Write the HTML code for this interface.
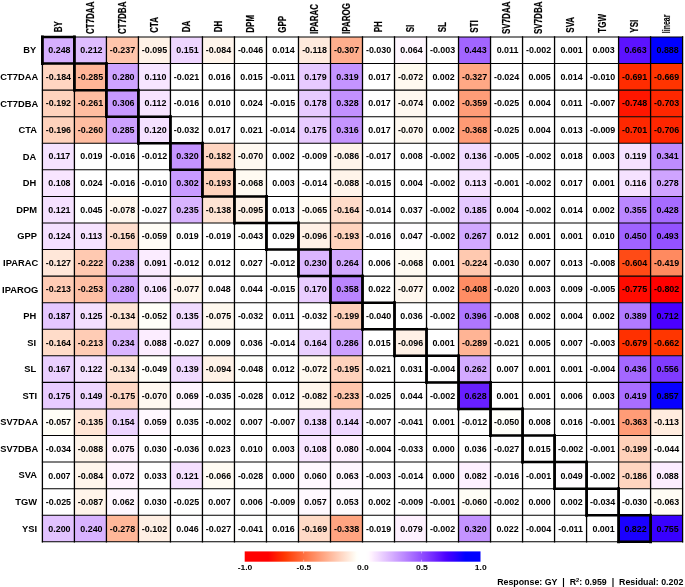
<!DOCTYPE html><html><head><meta charset="utf-8"><title>Path coefficients</title>
<style>html,body{margin:0;padding:0;background:#fff}svg{display:block}text{font-family:"Liberation Sans",Arial,Helvetica,sans-serif;font-weight:bold;fill:#000}</style></head><body>
<svg width="685" height="587" viewBox="0 0 685 587">
<rect x="0" y="0" width="685" height="587" fill="#fff"/>
<rect x="42.40" y="37.00" width="32.01" height="26.57" fill="#d6afff"/>
<rect x="74.41" y="37.00" width="32.01" height="26.57" fill="#dfbdff"/>
<rect x="106.42" y="37.00" width="32.01" height="26.57" fill="#ffc5ab"/>
<rect x="138.43" y="37.00" width="32.01" height="26.57" fill="#fff2e7"/>
<rect x="170.44" y="37.00" width="32.01" height="26.57" fill="#eed5ff"/>
<rect x="202.45" y="37.00" width="32.01" height="26.57" fill="#fff5eb"/>
<rect x="234.46" y="37.00" width="32.01" height="26.57" fill="#fffffc"/>
<rect x="298.48" y="37.00" width="32.01" height="26.57" fill="#ffeadd"/>
<rect x="330.49" y="37.00" width="32.01" height="26.57" fill="#ffae8d"/>
<rect x="394.51" y="37.00" width="32.01" height="26.57" fill="#fff7ff"/>
<rect x="458.53" y="37.00" width="32.01" height="26.57" fill="#a265ff"/>
<rect x="618.58" y="37.00" width="32.01" height="26.57" fill="#5c12ff"/>
<rect x="650.59" y="37.00" width="32.01" height="26.57" fill="#0000ff"/>
<rect x="42.40" y="63.57" width="32.01" height="26.57" fill="#ffd5c1"/>
<rect x="74.41" y="63.57" width="32.01" height="26.57" fill="#ffb597"/>
<rect x="106.42" y="63.57" width="32.01" height="26.57" fill="#cea3ff"/>
<rect x="138.43" y="63.57" width="32.01" height="26.57" fill="#f7e5ff"/>
<rect x="298.48" y="63.57" width="32.01" height="26.57" fill="#e7caff"/>
<rect x="330.49" y="63.57" width="32.01" height="26.57" fill="#c494ff"/>
<rect x="394.51" y="63.57" width="32.01" height="26.57" fill="#fff9f0"/>
<rect x="458.53" y="63.57" width="32.01" height="26.57" fill="#ffa885"/>
<rect x="618.58" y="63.57" width="32.01" height="26.57" fill="#ff2c00"/>
<rect x="650.59" y="63.57" width="32.01" height="26.57" fill="#ff3400"/>
<rect x="42.40" y="90.14" width="32.01" height="26.57" fill="#ffd3bd"/>
<rect x="74.41" y="90.14" width="32.01" height="26.57" fill="#ffbda1"/>
<rect x="106.42" y="90.14" width="32.01" height="26.57" fill="#c799ff"/>
<rect x="138.43" y="90.14" width="32.01" height="26.57" fill="#f7e4ff"/>
<rect x="298.48" y="90.14" width="32.01" height="26.57" fill="#e7caff"/>
<rect x="330.49" y="90.14" width="32.01" height="26.57" fill="#c291ff"/>
<rect x="394.51" y="90.14" width="32.01" height="26.57" fill="#fff8f0"/>
<rect x="458.53" y="90.14" width="32.01" height="26.57" fill="#ff9d78"/>
<rect x="618.58" y="90.14" width="32.01" height="26.57" fill="#ff1600"/>
<rect x="650.59" y="90.14" width="32.01" height="26.57" fill="#ff2700"/>
<rect x="42.40" y="116.71" width="32.01" height="26.57" fill="#ffd2bc"/>
<rect x="74.41" y="116.71" width="32.01" height="26.57" fill="#ffbda1"/>
<rect x="106.42" y="116.71" width="32.01" height="26.57" fill="#cda1ff"/>
<rect x="138.43" y="116.71" width="32.01" height="26.57" fill="#f5e1ff"/>
<rect x="298.48" y="116.71" width="32.01" height="26.57" fill="#e8cbff"/>
<rect x="330.49" y="116.71" width="32.01" height="26.57" fill="#c595ff"/>
<rect x="394.51" y="116.71" width="32.01" height="26.57" fill="#fff9f1"/>
<rect x="458.53" y="116.71" width="32.01" height="26.57" fill="#ff9a74"/>
<rect x="618.58" y="116.71" width="32.01" height="26.57" fill="#ff2800"/>
<rect x="650.59" y="116.71" width="32.01" height="26.57" fill="#ff2600"/>
<rect x="42.40" y="143.27" width="32.01" height="26.57" fill="#f5e2ff"/>
<rect x="170.44" y="143.27" width="32.01" height="26.57" fill="#c494ff"/>
<rect x="202.45" y="143.27" width="32.01" height="26.57" fill="#ffd6c2"/>
<rect x="234.46" y="143.27" width="32.01" height="26.57" fill="#fff9f1"/>
<rect x="330.49" y="143.27" width="32.01" height="26.57" fill="#fff4ea"/>
<rect x="458.53" y="143.27" width="32.01" height="26.57" fill="#f1dbff"/>
<rect x="618.58" y="143.27" width="32.01" height="26.57" fill="#f5e1ff"/>
<rect x="650.59" y="143.27" width="32.01" height="26.57" fill="#be8cff"/>
<rect x="42.40" y="169.84" width="32.01" height="26.57" fill="#f8e5ff"/>
<rect x="170.44" y="169.84" width="32.01" height="26.57" fill="#c89bff"/>
<rect x="202.45" y="169.84" width="32.01" height="26.57" fill="#ffd3bd"/>
<rect x="234.46" y="169.84" width="32.01" height="26.57" fill="#fffaf2"/>
<rect x="330.49" y="169.84" width="32.01" height="26.57" fill="#fff4ea"/>
<rect x="458.53" y="169.84" width="32.01" height="26.57" fill="#f6e3ff"/>
<rect x="618.58" y="169.84" width="32.01" height="26.57" fill="#f6e2ff"/>
<rect x="650.59" y="169.84" width="32.01" height="26.57" fill="#cfa4ff"/>
<rect x="42.40" y="196.41" width="32.01" height="26.57" fill="#f5e0ff"/>
<rect x="74.41" y="196.41" width="32.01" height="26.57" fill="#fffeff"/>
<rect x="106.42" y="196.41" width="32.01" height="26.57" fill="#fff7ee"/>
<rect x="170.44" y="196.41" width="32.01" height="26.57" fill="#d9b4ff"/>
<rect x="202.45" y="196.41" width="32.01" height="26.57" fill="#ffe4d4"/>
<rect x="234.46" y="196.41" width="32.01" height="26.57" fill="#fff2e7"/>
<rect x="298.48" y="196.41" width="32.01" height="26.57" fill="#fffbf3"/>
<rect x="330.49" y="196.41" width="32.01" height="26.57" fill="#ffdcc9"/>
<rect x="458.53" y="196.41" width="32.01" height="26.57" fill="#e5c8ff"/>
<rect x="618.58" y="196.41" width="32.01" height="26.57" fill="#bb87ff"/>
<rect x="650.59" y="196.41" width="32.01" height="26.57" fill="#a66bff"/>
<rect x="42.40" y="222.98" width="32.01" height="26.57" fill="#f4dfff"/>
<rect x="74.41" y="222.98" width="32.01" height="26.57" fill="#f6e3ff"/>
<rect x="106.42" y="222.98" width="32.01" height="26.57" fill="#ffdecd"/>
<rect x="138.43" y="222.98" width="32.01" height="26.57" fill="#fffdf6"/>
<rect x="234.46" y="222.98" width="32.01" height="26.57" fill="#fffffd"/>
<rect x="298.48" y="222.98" width="32.01" height="26.57" fill="#fff1e6"/>
<rect x="330.49" y="222.98" width="32.01" height="26.57" fill="#ffd3bd"/>
<rect x="394.51" y="222.98" width="32.01" height="26.57" fill="#fffdff"/>
<rect x="458.53" y="222.98" width="32.01" height="26.57" fill="#d1a8ff"/>
<rect x="618.58" y="222.98" width="32.01" height="26.57" fill="#a063ff"/>
<rect x="650.59" y="222.98" width="32.01" height="26.57" fill="#9452ff"/>
<rect x="42.40" y="249.55" width="32.01" height="26.57" fill="#ffe7d9"/>
<rect x="74.41" y="249.55" width="32.01" height="26.57" fill="#ffc9b1"/>
<rect x="106.42" y="249.55" width="32.01" height="26.57" fill="#d9b3ff"/>
<rect x="138.43" y="249.55" width="32.01" height="26.57" fill="#fbecff"/>
<rect x="298.48" y="249.55" width="32.01" height="26.57" fill="#dbb6ff"/>
<rect x="330.49" y="249.55" width="32.01" height="26.57" fill="#d2a9ff"/>
<rect x="394.51" y="249.55" width="32.01" height="26.57" fill="#fffaf2"/>
<rect x="458.53" y="249.55" width="32.01" height="26.57" fill="#ffc9b0"/>
<rect x="618.58" y="249.55" width="32.01" height="26.57" fill="#ff4b16"/>
<rect x="650.59" y="249.55" width="32.01" height="26.57" fill="#ff8a60"/>
<rect x="42.40" y="276.12" width="32.01" height="26.57" fill="#ffccb5"/>
<rect x="74.41" y="276.12" width="32.01" height="26.57" fill="#ffbfa4"/>
<rect x="106.42" y="276.12" width="32.01" height="26.57" fill="#cea3ff"/>
<rect x="138.43" y="276.12" width="32.01" height="26.57" fill="#f8e6ff"/>
<rect x="170.44" y="276.12" width="32.01" height="26.57" fill="#fff7ee"/>
<rect x="202.45" y="276.12" width="32.01" height="26.57" fill="#fffdff"/>
<rect x="234.46" y="276.12" width="32.01" height="26.57" fill="#fffeff"/>
<rect x="298.48" y="276.12" width="32.01" height="26.57" fill="#e9cdff"/>
<rect x="330.49" y="276.12" width="32.01" height="26.57" fill="#ba85ff"/>
<rect x="394.51" y="276.12" width="32.01" height="26.57" fill="#fff7ee"/>
<rect x="458.53" y="276.12" width="32.01" height="26.57" fill="#ff8d64"/>
<rect x="618.58" y="276.12" width="32.01" height="26.57" fill="#ff0b00"/>
<rect x="650.59" y="276.12" width="32.01" height="26.57" fill="#ff0000"/>
<rect x="42.40" y="302.68" width="32.01" height="26.57" fill="#e5c7ff"/>
<rect x="74.41" y="302.68" width="32.01" height="26.57" fill="#f4dfff"/>
<rect x="106.42" y="302.68" width="32.01" height="26.57" fill="#ffe5d6"/>
<rect x="138.43" y="302.68" width="32.01" height="26.57" fill="#fffff9"/>
<rect x="170.44" y="302.68" width="32.01" height="26.57" fill="#f1dbff"/>
<rect x="202.45" y="302.68" width="32.01" height="26.57" fill="#fff8ef"/>
<rect x="330.49" y="302.68" width="32.01" height="26.57" fill="#ffd1ba"/>
<rect x="362.50" y="302.68" width="32.01" height="26.57" fill="#fffffe"/>
<rect x="458.53" y="302.68" width="32.01" height="26.57" fill="#af77ff"/>
<rect x="618.58" y="302.68" width="32.01" height="26.57" fill="#b17aff"/>
<rect x="650.59" y="302.68" width="32.01" height="26.57" fill="#4a00ff"/>
<rect x="42.40" y="329.25" width="32.01" height="26.57" fill="#ffdcc9"/>
<rect x="74.41" y="329.25" width="32.01" height="26.57" fill="#ffccb5"/>
<rect x="106.42" y="329.25" width="32.01" height="26.57" fill="#dab5ff"/>
<rect x="138.43" y="329.25" width="32.01" height="26.57" fill="#fcedff"/>
<rect x="298.48" y="329.25" width="32.01" height="26.57" fill="#ead0ff"/>
<rect x="330.49" y="329.25" width="32.01" height="26.57" fill="#cda1ff"/>
<rect x="394.51" y="329.25" width="32.01" height="26.57" fill="#fff1e6"/>
<rect x="458.53" y="329.25" width="32.01" height="26.57" fill="#ffb495"/>
<rect x="618.58" y="329.25" width="32.01" height="26.57" fill="#ff3000"/>
<rect x="650.59" y="329.25" width="32.01" height="26.57" fill="#ff3600"/>
<rect x="42.40" y="355.82" width="32.01" height="26.57" fill="#eacfff"/>
<rect x="74.41" y="355.82" width="32.01" height="26.57" fill="#f4e0ff"/>
<rect x="106.42" y="355.82" width="32.01" height="26.57" fill="#ffe5d6"/>
<rect x="138.43" y="355.82" width="32.01" height="26.57" fill="#fffffa"/>
<rect x="170.44" y="355.82" width="32.01" height="26.57" fill="#f0d9ff"/>
<rect x="202.45" y="355.82" width="32.01" height="26.57" fill="#fff2e7"/>
<rect x="234.46" y="355.82" width="32.01" height="26.57" fill="#fffffb"/>
<rect x="298.48" y="355.82" width="32.01" height="26.57" fill="#fff9f0"/>
<rect x="330.49" y="355.82" width="32.01" height="26.57" fill="#ffd2bc"/>
<rect x="458.53" y="355.82" width="32.01" height="26.57" fill="#d3aaff"/>
<rect x="618.58" y="355.82" width="32.01" height="26.57" fill="#a468ff"/>
<rect x="650.59" y="355.82" width="32.01" height="26.57" fill="#803bff"/>
<rect x="42.40" y="382.39" width="32.01" height="26.57" fill="#e8cbff"/>
<rect x="74.41" y="382.39" width="32.01" height="26.57" fill="#eed6ff"/>
<rect x="106.42" y="382.39" width="32.01" height="26.57" fill="#ffd8c5"/>
<rect x="138.43" y="382.39" width="32.01" height="26.57" fill="#fff9f1"/>
<rect x="170.44" y="382.39" width="32.01" height="26.57" fill="#fff5ff"/>
<rect x="298.48" y="382.39" width="32.01" height="26.57" fill="#fff6ec"/>
<rect x="330.49" y="382.39" width="32.01" height="26.57" fill="#ffc6ac"/>
<rect x="394.51" y="382.39" width="32.01" height="26.57" fill="#fffeff"/>
<rect x="458.53" y="382.39" width="32.01" height="26.57" fill="#681fff"/>
<rect x="618.58" y="382.39" width="32.01" height="26.57" fill="#a96eff"/>
<rect x="650.59" y="382.39" width="32.01" height="26.57" fill="#0700ff"/>
<rect x="42.40" y="408.96" width="32.01" height="26.57" fill="#fffef7"/>
<rect x="74.41" y="408.96" width="32.01" height="26.57" fill="#ffe5d5"/>
<rect x="106.42" y="408.96" width="32.01" height="26.57" fill="#edd4ff"/>
<rect x="138.43" y="408.96" width="32.01" height="26.57" fill="#fff8ff"/>
<rect x="298.48" y="408.96" width="32.01" height="26.57" fill="#f1daff"/>
<rect x="330.49" y="408.96" width="32.01" height="26.57" fill="#efd7ff"/>
<rect x="394.51" y="408.96" width="32.01" height="26.57" fill="#fffffe"/>
<rect x="490.54" y="408.96" width="32.01" height="26.57" fill="#fffffa"/>
<rect x="618.58" y="408.96" width="32.01" height="26.57" fill="#ff9c77"/>
<rect x="650.59" y="408.96" width="32.01" height="26.57" fill="#ffecdf"/>
<rect x="74.41" y="435.53" width="32.01" height="26.57" fill="#fff4ea"/>
<rect x="106.42" y="435.53" width="32.01" height="26.57" fill="#fff2ff"/>
<rect x="298.48" y="435.53" width="32.01" height="26.57" fill="#f8e5ff"/>
<rect x="330.49" y="435.53" width="32.01" height="26.57" fill="#fef0ff"/>
<rect x="618.58" y="435.53" width="32.01" height="26.57" fill="#ffd1ba"/>
<rect x="650.59" y="435.53" width="32.01" height="26.57" fill="#fffffc"/>
<rect x="74.41" y="462.09" width="32.01" height="26.57" fill="#fff5eb"/>
<rect x="106.42" y="462.09" width="32.01" height="26.57" fill="#fff3ff"/>
<rect x="170.44" y="462.09" width="32.01" height="26.57" fill="#f5e0ff"/>
<rect x="202.45" y="462.09" width="32.01" height="26.57" fill="#fffbf3"/>
<rect x="298.48" y="462.09" width="32.01" height="26.57" fill="#fff8ff"/>
<rect x="330.49" y="462.09" width="32.01" height="26.57" fill="#fff7ff"/>
<rect x="458.53" y="462.09" width="32.01" height="26.57" fill="#fdf0ff"/>
<rect x="554.56" y="462.09" width="32.01" height="26.57" fill="#fffcff"/>
<rect x="618.58" y="462.09" width="32.01" height="26.57" fill="#ffd5c0"/>
<rect x="650.59" y="462.09" width="32.01" height="26.57" fill="#fcedff"/>
<rect x="74.41" y="488.66" width="32.01" height="26.57" fill="#fff4ea"/>
<rect x="106.42" y="488.66" width="32.01" height="26.57" fill="#fff7ff"/>
<rect x="298.48" y="488.66" width="32.01" height="26.57" fill="#fff9ff"/>
<rect x="330.49" y="488.66" width="32.01" height="26.57" fill="#fffbff"/>
<rect x="458.53" y="488.66" width="32.01" height="26.57" fill="#fffdf6"/>
<rect x="650.59" y="488.66" width="32.01" height="26.57" fill="#fffcf4"/>
<rect x="42.40" y="515.23" width="32.01" height="26.57" fill="#e2c2ff"/>
<rect x="74.41" y="515.23" width="32.01" height="26.57" fill="#d8b2ff"/>
<rect x="106.42" y="515.23" width="32.01" height="26.57" fill="#ffb799"/>
<rect x="138.43" y="515.23" width="32.01" height="26.57" fill="#ffefe4"/>
<rect x="170.44" y="515.23" width="32.01" height="26.57" fill="#fffeff"/>
<rect x="234.46" y="515.23" width="32.01" height="26.57" fill="#fffffe"/>
<rect x="298.48" y="515.23" width="32.01" height="26.57" fill="#ffdac7"/>
<rect x="330.49" y="515.23" width="32.01" height="26.57" fill="#ffa481"/>
<rect x="394.51" y="515.23" width="32.01" height="26.57" fill="#fef1ff"/>
<rect x="458.53" y="515.23" width="32.01" height="26.57" fill="#c494ff"/>
<rect x="618.58" y="515.23" width="32.01" height="26.57" fill="#1a00ff"/>
<rect x="650.59" y="515.23" width="32.01" height="26.57" fill="#3800ff"/>
<path d="M42.40 37.00V541.80M74.41 37.00V541.80M106.42 37.00V541.80M138.43 37.00V541.80M170.44 37.00V541.80M202.45 37.00V541.80M234.46 37.00V541.80M266.47 37.00V541.80M298.48 37.00V541.80M330.49 37.00V541.80M362.50 37.00V541.80M394.51 37.00V541.80M426.52 37.00V541.80M458.53 37.00V541.80M490.54 37.00V541.80M522.55 37.00V541.80M554.56 37.00V541.80M586.57 37.00V541.80M618.58 37.00V541.80M650.59 37.00V541.80M682.60 37.00V541.80" stroke="#000" stroke-width="1.3" fill="none" stroke-linecap="square"/>
<path d="M42.40 37.00H682.60M42.40 63.57H682.60M42.40 90.14H682.60M42.40 116.71H682.60M42.40 143.27H682.60M42.40 169.84H682.60M42.40 196.41H682.60M42.40 222.98H682.60M42.40 249.55H682.60M42.40 276.12H682.60M42.40 302.68H682.60M42.40 329.25H682.60M42.40 355.82H682.60M42.40 382.39H682.60M42.40 408.96H682.60M42.40 435.53H682.60M42.40 462.09H682.60M42.40 488.66H682.60M42.40 515.23H682.60M42.40 541.80H682.60" stroke="#000" stroke-width="1.05" fill="none" stroke-linecap="square"/>
<path d="M42.40 37.00v26.57M74.41 37.00v26.57M74.41 63.57v26.57M106.42 63.57v26.57M106.42 90.14v26.57M138.43 90.14v26.57M138.43 116.71v26.57M170.44 116.71v26.57M170.44 143.27v26.57M202.45 143.27v26.57M202.45 169.84v26.57M234.46 169.84v26.57M234.46 196.41v26.57M266.47 196.41v26.57M266.47 222.98v26.57M298.48 222.98v26.57M298.48 249.55v26.57M330.49 249.55v26.57M330.49 276.12v26.57M362.50 276.12v26.57M362.50 302.68v26.57M394.51 302.68v26.57M394.51 329.25v26.57M426.52 329.25v26.57M426.52 355.82v26.57M458.53 355.82v26.57M458.53 382.39v26.57M490.54 382.39v26.57M490.54 408.96v26.57M522.55 408.96v26.57M522.55 435.53v26.57M554.56 435.53v26.57M554.56 462.09v26.57M586.57 462.09v26.57M586.57 488.66v26.57M618.58 488.66v26.57M618.58 515.23v26.57M650.59 515.23v26.57" stroke="#000" stroke-width="2.8" fill="none" stroke-linecap="square"/>
<path d="M42.40 37.00h32.01M42.40 63.57h32.01M74.41 63.57h32.01M74.41 90.14h32.01M106.42 90.14h32.01M106.42 116.71h32.01M138.43 116.71h32.01M138.43 143.27h32.01M170.44 143.27h32.01M170.44 169.84h32.01M202.45 169.84h32.01M202.45 196.41h32.01M234.46 196.41h32.01M234.46 222.98h32.01M266.47 222.98h32.01M266.47 249.55h32.01M298.48 249.55h32.01M298.48 276.12h32.01M330.49 276.12h32.01M330.49 302.68h32.01M362.50 302.68h32.01M362.50 329.25h32.01M394.51 329.25h32.01M394.51 355.82h32.01M426.52 355.82h32.01M426.52 382.39h32.01M458.53 382.39h32.01M458.53 408.96h32.01M490.54 408.96h32.01M490.54 435.53h32.01M522.55 435.53h32.01M522.55 462.09h32.01M554.56 462.09h32.01M554.56 488.66h32.01M586.57 488.66h32.01M586.57 515.23h32.01M618.58 515.23h32.01M618.58 541.80h32.01" stroke="#000" stroke-width="2.5" fill="none" stroke-linecap="square"/>
<g font-size="8.50" text-anchor="middle">
<text transform="translate(59.41 53.08) scale(1.05 1)">0.248</text>
<text transform="translate(91.42 53.08) scale(1.05 1)">0.212</text>
<text transform="translate(122.48 53.08) scale(1.05 1)">-0.237</text>
<text transform="translate(154.49 53.08) scale(1.05 1)">-0.095</text>
<text transform="translate(187.45 53.08) scale(1.05 1)">0.151</text>
<text transform="translate(218.51 53.08) scale(1.05 1)">-0.084</text>
<text transform="translate(250.52 53.08) scale(1.05 1)">-0.046</text>
<text transform="translate(283.48 53.08) scale(1.05 1)">0.014</text>
<text transform="translate(314.54 53.08) scale(1.05 1)">-0.118</text>
<text transform="translate(346.55 53.08) scale(1.05 1)">-0.307</text>
<text transform="translate(378.56 53.08) scale(1.05 1)">-0.030</text>
<text transform="translate(411.52 53.08) scale(1.05 1)">0.064</text>
<text transform="translate(442.58 53.08) scale(1.05 1)">-0.003</text>
<text transform="translate(475.54 53.08) scale(1.05 1)">0.443</text>
<text transform="translate(507.55 53.08) scale(1.05 1)">0.011</text>
<text transform="translate(538.61 53.08) scale(1.05 1)">-0.002</text>
<text transform="translate(571.57 53.08) scale(1.05 1)">0.001</text>
<text transform="translate(603.58 53.08) scale(1.05 1)">0.003</text>
<text transform="translate(635.59 53.08) scale(1.05 1)">0.663</text>
<text transform="translate(667.60 53.08) scale(1.05 1)">0.888</text>
<text transform="translate(58.45 79.68) scale(1.05 1)">-0.184</text>
<text transform="translate(90.47 79.68) scale(1.05 1)">-0.285</text>
<text transform="translate(123.43 79.68) scale(1.05 1)">0.280</text>
<text transform="translate(155.44 79.68) scale(1.05 1)">0.110</text>
<text transform="translate(186.50 79.68) scale(1.05 1)">-0.021</text>
<text transform="translate(219.46 79.68) scale(1.05 1)">0.016</text>
<text transform="translate(251.47 79.68) scale(1.05 1)">0.015</text>
<text transform="translate(282.53 79.68) scale(1.05 1)">-0.011</text>
<text transform="translate(315.49 79.68) scale(1.05 1)">0.179</text>
<text transform="translate(347.50 79.68) scale(1.05 1)">0.319</text>
<text transform="translate(379.51 79.68) scale(1.05 1)">0.017</text>
<text transform="translate(410.57 79.68) scale(1.05 1)">-0.072</text>
<text transform="translate(443.53 79.68) scale(1.05 1)">0.002</text>
<text transform="translate(474.59 79.68) scale(1.05 1)">-0.327</text>
<text transform="translate(506.60 79.68) scale(1.05 1)">-0.024</text>
<text transform="translate(539.56 79.68) scale(1.05 1)">0.005</text>
<text transform="translate(571.57 79.68) scale(1.05 1)">0.014</text>
<text transform="translate(602.62 79.68) scale(1.05 1)">-0.010</text>
<text transform="translate(634.63 79.68) scale(1.05 1)">-0.691</text>
<text transform="translate(666.64 79.68) scale(1.05 1)">-0.669</text>
<text transform="translate(58.45 106.28) scale(1.05 1)">-0.192</text>
<text transform="translate(90.47 106.28) scale(1.05 1)">-0.261</text>
<text transform="translate(123.43 106.28) scale(1.05 1)">0.306</text>
<text transform="translate(155.44 106.28) scale(1.05 1)">0.112</text>
<text transform="translate(186.50 106.28) scale(1.05 1)">-0.016</text>
<text transform="translate(219.46 106.28) scale(1.05 1)">0.010</text>
<text transform="translate(251.47 106.28) scale(1.05 1)">0.024</text>
<text transform="translate(282.53 106.28) scale(1.05 1)">-0.015</text>
<text transform="translate(315.49 106.28) scale(1.05 1)">0.178</text>
<text transform="translate(347.50 106.28) scale(1.05 1)">0.328</text>
<text transform="translate(379.51 106.28) scale(1.05 1)">0.017</text>
<text transform="translate(410.57 106.28) scale(1.05 1)">-0.074</text>
<text transform="translate(443.53 106.28) scale(1.05 1)">0.002</text>
<text transform="translate(474.59 106.28) scale(1.05 1)">-0.359</text>
<text transform="translate(506.60 106.28) scale(1.05 1)">-0.025</text>
<text transform="translate(539.56 106.28) scale(1.05 1)">0.004</text>
<text transform="translate(571.57 106.28) scale(1.05 1)">0.011</text>
<text transform="translate(602.62 106.28) scale(1.05 1)">-0.007</text>
<text transform="translate(634.63 106.28) scale(1.05 1)">-0.748</text>
<text transform="translate(666.64 106.28) scale(1.05 1)">-0.703</text>
<text transform="translate(58.45 132.88) scale(1.05 1)">-0.196</text>
<text transform="translate(90.47 132.88) scale(1.05 1)">-0.260</text>
<text transform="translate(123.43 132.88) scale(1.05 1)">0.285</text>
<text transform="translate(155.44 132.88) scale(1.05 1)">0.120</text>
<text transform="translate(186.50 132.88) scale(1.05 1)">-0.032</text>
<text transform="translate(219.46 132.88) scale(1.05 1)">0.017</text>
<text transform="translate(251.47 132.88) scale(1.05 1)">0.021</text>
<text transform="translate(282.53 132.88) scale(1.05 1)">-0.014</text>
<text transform="translate(315.49 132.88) scale(1.05 1)">0.175</text>
<text transform="translate(347.50 132.88) scale(1.05 1)">0.316</text>
<text transform="translate(379.51 132.88) scale(1.05 1)">0.017</text>
<text transform="translate(410.57 132.88) scale(1.05 1)">-0.070</text>
<text transform="translate(443.53 132.88) scale(1.05 1)">0.002</text>
<text transform="translate(474.59 132.88) scale(1.05 1)">-0.368</text>
<text transform="translate(506.60 132.88) scale(1.05 1)">-0.025</text>
<text transform="translate(539.56 132.88) scale(1.05 1)">0.004</text>
<text transform="translate(571.57 132.88) scale(1.05 1)">0.013</text>
<text transform="translate(602.62 132.88) scale(1.05 1)">-0.009</text>
<text transform="translate(634.63 132.88) scale(1.05 1)">-0.701</text>
<text transform="translate(666.64 132.88) scale(1.05 1)">-0.706</text>
<text transform="translate(59.41 159.48) scale(1.05 1)">0.117</text>
<text transform="translate(91.42 159.48) scale(1.05 1)">0.019</text>
<text transform="translate(122.48 159.48) scale(1.05 1)">-0.016</text>
<text transform="translate(154.49 159.48) scale(1.05 1)">-0.012</text>
<text transform="translate(187.45 159.48) scale(1.05 1)">0.320</text>
<text transform="translate(218.51 159.48) scale(1.05 1)">-0.182</text>
<text transform="translate(250.52 159.48) scale(1.05 1)">-0.070</text>
<text transform="translate(283.48 159.48) scale(1.05 1)">0.002</text>
<text transform="translate(314.54 159.48) scale(1.05 1)">-0.009</text>
<text transform="translate(346.55 159.48) scale(1.05 1)">-0.086</text>
<text transform="translate(378.56 159.48) scale(1.05 1)">-0.017</text>
<text transform="translate(411.52 159.48) scale(1.05 1)">0.008</text>
<text transform="translate(442.58 159.48) scale(1.05 1)">-0.002</text>
<text transform="translate(475.54 159.48) scale(1.05 1)">0.136</text>
<text transform="translate(506.60 159.48) scale(1.05 1)">-0.005</text>
<text transform="translate(538.61 159.48) scale(1.05 1)">-0.002</text>
<text transform="translate(571.57 159.48) scale(1.05 1)">0.018</text>
<text transform="translate(603.58 159.48) scale(1.05 1)">0.003</text>
<text transform="translate(635.59 159.48) scale(1.05 1)">0.119</text>
<text transform="translate(667.60 159.48) scale(1.05 1)">0.341</text>
<text transform="translate(59.41 186.08) scale(1.05 1)">0.108</text>
<text transform="translate(91.42 186.08) scale(1.05 1)">0.024</text>
<text transform="translate(122.48 186.08) scale(1.05 1)">-0.016</text>
<text transform="translate(154.49 186.08) scale(1.05 1)">-0.010</text>
<text transform="translate(187.45 186.08) scale(1.05 1)">0.302</text>
<text transform="translate(218.51 186.08) scale(1.05 1)">-0.193</text>
<text transform="translate(250.52 186.08) scale(1.05 1)">-0.068</text>
<text transform="translate(283.48 186.08) scale(1.05 1)">0.003</text>
<text transform="translate(314.54 186.08) scale(1.05 1)">-0.014</text>
<text transform="translate(346.55 186.08) scale(1.05 1)">-0.088</text>
<text transform="translate(378.56 186.08) scale(1.05 1)">-0.015</text>
<text transform="translate(411.52 186.08) scale(1.05 1)">0.004</text>
<text transform="translate(442.58 186.08) scale(1.05 1)">-0.002</text>
<text transform="translate(475.54 186.08) scale(1.05 1)">0.113</text>
<text transform="translate(506.60 186.08) scale(1.05 1)">-0.001</text>
<text transform="translate(538.61 186.08) scale(1.05 1)">-0.002</text>
<text transform="translate(571.57 186.08) scale(1.05 1)">0.017</text>
<text transform="translate(603.58 186.08) scale(1.05 1)">0.001</text>
<text transform="translate(635.59 186.08) scale(1.05 1)">0.116</text>
<text transform="translate(667.60 186.08) scale(1.05 1)">0.278</text>
<text transform="translate(59.41 212.67) scale(1.05 1)">0.121</text>
<text transform="translate(91.42 212.67) scale(1.05 1)">0.045</text>
<text transform="translate(122.48 212.67) scale(1.05 1)">-0.078</text>
<text transform="translate(154.49 212.67) scale(1.05 1)">-0.027</text>
<text transform="translate(187.45 212.67) scale(1.05 1)">0.235</text>
<text transform="translate(218.51 212.67) scale(1.05 1)">-0.138</text>
<text transform="translate(250.52 212.67) scale(1.05 1)">-0.095</text>
<text transform="translate(283.48 212.67) scale(1.05 1)">0.013</text>
<text transform="translate(314.54 212.67) scale(1.05 1)">-0.065</text>
<text transform="translate(346.55 212.67) scale(1.05 1)">-0.164</text>
<text transform="translate(378.56 212.67) scale(1.05 1)">-0.014</text>
<text transform="translate(411.52 212.67) scale(1.05 1)">0.037</text>
<text transform="translate(442.58 212.67) scale(1.05 1)">-0.002</text>
<text transform="translate(475.54 212.67) scale(1.05 1)">0.185</text>
<text transform="translate(507.55 212.67) scale(1.05 1)">0.004</text>
<text transform="translate(538.61 212.67) scale(1.05 1)">-0.002</text>
<text transform="translate(571.57 212.67) scale(1.05 1)">0.014</text>
<text transform="translate(603.58 212.67) scale(1.05 1)">0.002</text>
<text transform="translate(635.59 212.67) scale(1.05 1)">0.355</text>
<text transform="translate(667.60 212.67) scale(1.05 1)">0.428</text>
<text transform="translate(59.41 239.27) scale(1.05 1)">0.124</text>
<text transform="translate(91.42 239.27) scale(1.05 1)">0.113</text>
<text transform="translate(122.48 239.27) scale(1.05 1)">-0.156</text>
<text transform="translate(154.49 239.27) scale(1.05 1)">-0.059</text>
<text transform="translate(187.45 239.27) scale(1.05 1)">0.019</text>
<text transform="translate(218.51 239.27) scale(1.05 1)">-0.019</text>
<text transform="translate(250.52 239.27) scale(1.05 1)">-0.043</text>
<text transform="translate(283.48 239.27) scale(1.05 1)">0.029</text>
<text transform="translate(314.54 239.27) scale(1.05 1)">-0.096</text>
<text transform="translate(346.55 239.27) scale(1.05 1)">-0.193</text>
<text transform="translate(378.56 239.27) scale(1.05 1)">-0.016</text>
<text transform="translate(411.52 239.27) scale(1.05 1)">0.047</text>
<text transform="translate(442.58 239.27) scale(1.05 1)">-0.002</text>
<text transform="translate(475.54 239.27) scale(1.05 1)">0.267</text>
<text transform="translate(507.55 239.27) scale(1.05 1)">0.012</text>
<text transform="translate(539.56 239.27) scale(1.05 1)">0.001</text>
<text transform="translate(571.57 239.27) scale(1.05 1)">0.001</text>
<text transform="translate(603.58 239.27) scale(1.05 1)">0.010</text>
<text transform="translate(635.59 239.27) scale(1.05 1)">0.450</text>
<text transform="translate(667.60 239.27) scale(1.05 1)">0.493</text>
<text transform="translate(58.45 265.87) scale(1.05 1)">-0.127</text>
<text transform="translate(90.47 265.87) scale(1.05 1)">-0.222</text>
<text transform="translate(123.43 265.87) scale(1.05 1)">0.238</text>
<text transform="translate(155.44 265.87) scale(1.05 1)">0.091</text>
<text transform="translate(186.50 265.87) scale(1.05 1)">-0.012</text>
<text transform="translate(219.46 265.87) scale(1.05 1)">0.012</text>
<text transform="translate(251.47 265.87) scale(1.05 1)">0.027</text>
<text transform="translate(282.53 265.87) scale(1.05 1)">-0.012</text>
<text transform="translate(315.49 265.87) scale(1.05 1)">0.230</text>
<text transform="translate(347.50 265.87) scale(1.05 1)">0.264</text>
<text transform="translate(379.51 265.87) scale(1.05 1)">0.006</text>
<text transform="translate(410.57 265.87) scale(1.05 1)">-0.068</text>
<text transform="translate(443.53 265.87) scale(1.05 1)">0.001</text>
<text transform="translate(474.59 265.87) scale(1.05 1)">-0.224</text>
<text transform="translate(506.60 265.87) scale(1.05 1)">-0.030</text>
<text transform="translate(539.56 265.87) scale(1.05 1)">0.007</text>
<text transform="translate(571.57 265.87) scale(1.05 1)">0.013</text>
<text transform="translate(602.62 265.87) scale(1.05 1)">-0.008</text>
<text transform="translate(634.63 265.87) scale(1.05 1)">-0.604</text>
<text transform="translate(666.64 265.87) scale(1.05 1)">-0.419</text>
<text transform="translate(58.45 292.47) scale(1.05 1)">-0.213</text>
<text transform="translate(90.47 292.47) scale(1.05 1)">-0.253</text>
<text transform="translate(123.43 292.47) scale(1.05 1)">0.280</text>
<text transform="translate(155.44 292.47) scale(1.05 1)">0.106</text>
<text transform="translate(186.50 292.47) scale(1.05 1)">-0.077</text>
<text transform="translate(219.46 292.47) scale(1.05 1)">0.048</text>
<text transform="translate(251.47 292.47) scale(1.05 1)">0.044</text>
<text transform="translate(282.53 292.47) scale(1.05 1)">-0.015</text>
<text transform="translate(315.49 292.47) scale(1.05 1)">0.170</text>
<text transform="translate(347.50 292.47) scale(1.05 1)">0.358</text>
<text transform="translate(379.51 292.47) scale(1.05 1)">0.022</text>
<text transform="translate(410.57 292.47) scale(1.05 1)">-0.077</text>
<text transform="translate(443.53 292.47) scale(1.05 1)">0.002</text>
<text transform="translate(474.59 292.47) scale(1.05 1)">-0.408</text>
<text transform="translate(506.60 292.47) scale(1.05 1)">-0.020</text>
<text transform="translate(539.56 292.47) scale(1.05 1)">0.003</text>
<text transform="translate(571.57 292.47) scale(1.05 1)">0.009</text>
<text transform="translate(602.62 292.47) scale(1.05 1)">-0.005</text>
<text transform="translate(634.63 292.47) scale(1.05 1)">-0.775</text>
<text transform="translate(666.64 292.47) scale(1.05 1)">-0.802</text>
<text transform="translate(59.41 319.07) scale(1.05 1)">0.187</text>
<text transform="translate(91.42 319.07) scale(1.05 1)">0.125</text>
<text transform="translate(122.48 319.07) scale(1.05 1)">-0.134</text>
<text transform="translate(154.49 319.07) scale(1.05 1)">-0.052</text>
<text transform="translate(187.45 319.07) scale(1.05 1)">0.135</text>
<text transform="translate(218.51 319.07) scale(1.05 1)">-0.075</text>
<text transform="translate(250.52 319.07) scale(1.05 1)">-0.032</text>
<text transform="translate(283.48 319.07) scale(1.05 1)">0.011</text>
<text transform="translate(314.54 319.07) scale(1.05 1)">-0.032</text>
<text transform="translate(346.55 319.07) scale(1.05 1)">-0.199</text>
<text transform="translate(378.56 319.07) scale(1.05 1)">-0.040</text>
<text transform="translate(411.52 319.07) scale(1.05 1)">0.036</text>
<text transform="translate(442.58 319.07) scale(1.05 1)">-0.002</text>
<text transform="translate(475.54 319.07) scale(1.05 1)">0.396</text>
<text transform="translate(506.60 319.07) scale(1.05 1)">-0.008</text>
<text transform="translate(539.56 319.07) scale(1.05 1)">0.002</text>
<text transform="translate(571.57 319.07) scale(1.05 1)">0.004</text>
<text transform="translate(603.58 319.07) scale(1.05 1)">0.002</text>
<text transform="translate(635.59 319.07) scale(1.05 1)">0.389</text>
<text transform="translate(667.60 319.07) scale(1.05 1)">0.712</text>
<text transform="translate(58.45 345.67) scale(1.05 1)">-0.164</text>
<text transform="translate(90.47 345.67) scale(1.05 1)">-0.213</text>
<text transform="translate(123.43 345.67) scale(1.05 1)">0.234</text>
<text transform="translate(155.44 345.67) scale(1.05 1)">0.088</text>
<text transform="translate(186.50 345.67) scale(1.05 1)">-0.027</text>
<text transform="translate(219.46 345.67) scale(1.05 1)">0.009</text>
<text transform="translate(251.47 345.67) scale(1.05 1)">0.036</text>
<text transform="translate(282.53 345.67) scale(1.05 1)">-0.014</text>
<text transform="translate(315.49 345.67) scale(1.05 1)">0.164</text>
<text transform="translate(347.50 345.67) scale(1.05 1)">0.286</text>
<text transform="translate(379.51 345.67) scale(1.05 1)">0.015</text>
<text transform="translate(410.57 345.67) scale(1.05 1)">-0.096</text>
<text transform="translate(443.53 345.67) scale(1.05 1)">0.001</text>
<text transform="translate(474.59 345.67) scale(1.05 1)">-0.289</text>
<text transform="translate(506.60 345.67) scale(1.05 1)">-0.021</text>
<text transform="translate(539.56 345.67) scale(1.05 1)">0.005</text>
<text transform="translate(571.57 345.67) scale(1.05 1)">0.007</text>
<text transform="translate(602.62 345.67) scale(1.05 1)">-0.003</text>
<text transform="translate(634.63 345.67) scale(1.05 1)">-0.679</text>
<text transform="translate(666.64 345.67) scale(1.05 1)">-0.662</text>
<text transform="translate(59.41 372.27) scale(1.05 1)">0.167</text>
<text transform="translate(91.42 372.27) scale(1.05 1)">0.122</text>
<text transform="translate(122.48 372.27) scale(1.05 1)">-0.134</text>
<text transform="translate(154.49 372.27) scale(1.05 1)">-0.049</text>
<text transform="translate(187.45 372.27) scale(1.05 1)">0.139</text>
<text transform="translate(218.51 372.27) scale(1.05 1)">-0.094</text>
<text transform="translate(250.52 372.27) scale(1.05 1)">-0.048</text>
<text transform="translate(283.48 372.27) scale(1.05 1)">0.012</text>
<text transform="translate(314.54 372.27) scale(1.05 1)">-0.072</text>
<text transform="translate(346.55 372.27) scale(1.05 1)">-0.195</text>
<text transform="translate(378.56 372.27) scale(1.05 1)">-0.021</text>
<text transform="translate(411.52 372.27) scale(1.05 1)">0.031</text>
<text transform="translate(442.58 372.27) scale(1.05 1)">-0.004</text>
<text transform="translate(475.54 372.27) scale(1.05 1)">0.262</text>
<text transform="translate(507.55 372.27) scale(1.05 1)">0.007</text>
<text transform="translate(539.56 372.27) scale(1.05 1)">0.001</text>
<text transform="translate(571.57 372.27) scale(1.05 1)">0.001</text>
<text transform="translate(602.62 372.27) scale(1.05 1)">-0.004</text>
<text transform="translate(635.59 372.27) scale(1.05 1)">0.436</text>
<text transform="translate(667.60 372.27) scale(1.05 1)">0.556</text>
<text transform="translate(59.41 398.86) scale(1.05 1)">0.175</text>
<text transform="translate(91.42 398.86) scale(1.05 1)">0.149</text>
<text transform="translate(122.48 398.86) scale(1.05 1)">-0.175</text>
<text transform="translate(154.49 398.86) scale(1.05 1)">-0.070</text>
<text transform="translate(187.45 398.86) scale(1.05 1)">0.069</text>
<text transform="translate(218.51 398.86) scale(1.05 1)">-0.035</text>
<text transform="translate(250.52 398.86) scale(1.05 1)">-0.028</text>
<text transform="translate(283.48 398.86) scale(1.05 1)">0.012</text>
<text transform="translate(314.54 398.86) scale(1.05 1)">-0.082</text>
<text transform="translate(346.55 398.86) scale(1.05 1)">-0.233</text>
<text transform="translate(378.56 398.86) scale(1.05 1)">-0.025</text>
<text transform="translate(411.52 398.86) scale(1.05 1)">0.044</text>
<text transform="translate(442.58 398.86) scale(1.05 1)">-0.002</text>
<text transform="translate(475.54 398.86) scale(1.05 1)">0.628</text>
<text transform="translate(507.55 398.86) scale(1.05 1)">0.001</text>
<text transform="translate(539.56 398.86) scale(1.05 1)">0.001</text>
<text transform="translate(571.57 398.86) scale(1.05 1)">0.006</text>
<text transform="translate(603.58 398.86) scale(1.05 1)">0.003</text>
<text transform="translate(635.59 398.86) scale(1.05 1)">0.419</text>
<text transform="translate(667.60 398.86) scale(1.05 1)">0.857</text>
<text transform="translate(58.45 425.46) scale(1.05 1)">-0.057</text>
<text transform="translate(90.47 425.46) scale(1.05 1)">-0.135</text>
<text transform="translate(123.43 425.46) scale(1.05 1)">0.154</text>
<text transform="translate(155.44 425.46) scale(1.05 1)">0.059</text>
<text transform="translate(187.45 425.46) scale(1.05 1)">0.035</text>
<text transform="translate(218.51 425.46) scale(1.05 1)">-0.002</text>
<text transform="translate(251.47 425.46) scale(1.05 1)">0.007</text>
<text transform="translate(282.53 425.46) scale(1.05 1)">-0.007</text>
<text transform="translate(315.49 425.46) scale(1.05 1)">0.138</text>
<text transform="translate(347.50 425.46) scale(1.05 1)">0.144</text>
<text transform="translate(378.56 425.46) scale(1.05 1)">-0.007</text>
<text transform="translate(410.57 425.46) scale(1.05 1)">-0.041</text>
<text transform="translate(443.53 425.46) scale(1.05 1)">0.001</text>
<text transform="translate(474.59 425.46) scale(1.05 1)">-0.012</text>
<text transform="translate(506.60 425.46) scale(1.05 1)">-0.050</text>
<text transform="translate(539.56 425.46) scale(1.05 1)">0.008</text>
<text transform="translate(571.57 425.46) scale(1.05 1)">0.016</text>
<text transform="translate(602.62 425.46) scale(1.05 1)">-0.001</text>
<text transform="translate(634.63 425.46) scale(1.05 1)">-0.363</text>
<text transform="translate(666.64 425.46) scale(1.05 1)">-0.113</text>
<text transform="translate(58.45 452.06) scale(1.05 1)">-0.034</text>
<text transform="translate(90.47 452.06) scale(1.05 1)">-0.088</text>
<text transform="translate(123.43 452.06) scale(1.05 1)">0.075</text>
<text transform="translate(155.44 452.06) scale(1.05 1)">0.030</text>
<text transform="translate(186.50 452.06) scale(1.05 1)">-0.036</text>
<text transform="translate(219.46 452.06) scale(1.05 1)">0.023</text>
<text transform="translate(251.47 452.06) scale(1.05 1)">0.010</text>
<text transform="translate(283.48 452.06) scale(1.05 1)">0.003</text>
<text transform="translate(315.49 452.06) scale(1.05 1)">0.108</text>
<text transform="translate(347.50 452.06) scale(1.05 1)">0.080</text>
<text transform="translate(378.56 452.06) scale(1.05 1)">-0.004</text>
<text transform="translate(410.57 452.06) scale(1.05 1)">-0.033</text>
<text transform="translate(443.53 452.06) scale(1.05 1)">0.000</text>
<text transform="translate(475.54 452.06) scale(1.05 1)">0.036</text>
<text transform="translate(506.60 452.06) scale(1.05 1)">-0.027</text>
<text transform="translate(539.56 452.06) scale(1.05 1)">0.015</text>
<text transform="translate(570.62 452.06) scale(1.05 1)">-0.002</text>
<text transform="translate(602.62 452.06) scale(1.05 1)">-0.001</text>
<text transform="translate(634.63 452.06) scale(1.05 1)">-0.199</text>
<text transform="translate(666.64 452.06) scale(1.05 1)">-0.044</text>
<text transform="translate(59.41 478.66) scale(1.05 1)">0.007</text>
<text transform="translate(90.47 478.66) scale(1.05 1)">-0.084</text>
<text transform="translate(123.43 478.66) scale(1.05 1)">0.072</text>
<text transform="translate(155.44 478.66) scale(1.05 1)">0.033</text>
<text transform="translate(187.45 478.66) scale(1.05 1)">0.121</text>
<text transform="translate(218.51 478.66) scale(1.05 1)">-0.066</text>
<text transform="translate(250.52 478.66) scale(1.05 1)">-0.028</text>
<text transform="translate(283.48 478.66) scale(1.05 1)">0.000</text>
<text transform="translate(315.49 478.66) scale(1.05 1)">0.060</text>
<text transform="translate(347.50 478.66) scale(1.05 1)">0.063</text>
<text transform="translate(378.56 478.66) scale(1.05 1)">-0.003</text>
<text transform="translate(410.57 478.66) scale(1.05 1)">-0.014</text>
<text transform="translate(443.53 478.66) scale(1.05 1)">0.000</text>
<text transform="translate(475.54 478.66) scale(1.05 1)">0.082</text>
<text transform="translate(506.60 478.66) scale(1.05 1)">-0.016</text>
<text transform="translate(538.61 478.66) scale(1.05 1)">-0.001</text>
<text transform="translate(571.57 478.66) scale(1.05 1)">0.049</text>
<text transform="translate(602.62 478.66) scale(1.05 1)">-0.002</text>
<text transform="translate(634.63 478.66) scale(1.05 1)">-0.186</text>
<text transform="translate(667.60 478.66) scale(1.05 1)">0.088</text>
<text transform="translate(58.45 505.26) scale(1.05 1)">-0.025</text>
<text transform="translate(90.47 505.26) scale(1.05 1)">-0.087</text>
<text transform="translate(123.43 505.26) scale(1.05 1)">0.062</text>
<text transform="translate(155.44 505.26) scale(1.05 1)">0.030</text>
<text transform="translate(186.50 505.26) scale(1.05 1)">-0.025</text>
<text transform="translate(219.46 505.26) scale(1.05 1)">0.007</text>
<text transform="translate(251.47 505.26) scale(1.05 1)">0.006</text>
<text transform="translate(282.53 505.26) scale(1.05 1)">-0.009</text>
<text transform="translate(315.49 505.26) scale(1.05 1)">0.057</text>
<text transform="translate(347.50 505.26) scale(1.05 1)">0.053</text>
<text transform="translate(379.51 505.26) scale(1.05 1)">0.002</text>
<text transform="translate(410.57 505.26) scale(1.05 1)">-0.009</text>
<text transform="translate(442.58 505.26) scale(1.05 1)">-0.001</text>
<text transform="translate(474.59 505.26) scale(1.05 1)">-0.060</text>
<text transform="translate(506.60 505.26) scale(1.05 1)">-0.002</text>
<text transform="translate(539.56 505.26) scale(1.05 1)">0.000</text>
<text transform="translate(571.57 505.26) scale(1.05 1)">0.002</text>
<text transform="translate(602.62 505.26) scale(1.05 1)">-0.034</text>
<text transform="translate(634.63 505.26) scale(1.05 1)">-0.030</text>
<text transform="translate(666.64 505.26) scale(1.05 1)">-0.063</text>
<text transform="translate(59.41 531.86) scale(1.05 1)">0.200</text>
<text transform="translate(91.42 531.86) scale(1.05 1)">0.240</text>
<text transform="translate(122.48 531.86) scale(1.05 1)">-0.278</text>
<text transform="translate(154.49 531.86) scale(1.05 1)">-0.102</text>
<text transform="translate(187.45 531.86) scale(1.05 1)">0.046</text>
<text transform="translate(218.51 531.86) scale(1.05 1)">-0.027</text>
<text transform="translate(250.52 531.86) scale(1.05 1)">-0.041</text>
<text transform="translate(283.48 531.86) scale(1.05 1)">0.016</text>
<text transform="translate(314.54 531.86) scale(1.05 1)">-0.169</text>
<text transform="translate(346.55 531.86) scale(1.05 1)">-0.338</text>
<text transform="translate(378.56 531.86) scale(1.05 1)">-0.019</text>
<text transform="translate(411.52 531.86) scale(1.05 1)">0.079</text>
<text transform="translate(442.58 531.86) scale(1.05 1)">-0.002</text>
<text transform="translate(475.54 531.86) scale(1.05 1)">0.320</text>
<text transform="translate(507.55 531.86) scale(1.05 1)">0.022</text>
<text transform="translate(538.61 531.86) scale(1.05 1)">-0.004</text>
<text transform="translate(570.62 531.86) scale(1.05 1)">-0.011</text>
<text transform="translate(603.58 531.86) scale(1.05 1)">0.001</text>
<text transform="translate(635.59 531.86) scale(1.05 1)">0.822</text>
<text transform="translate(667.60 531.86) scale(1.05 1)">0.755</text>
</g>
<g font-size="8.50" text-anchor="end">
<text transform="translate(36.20 53.38) scale(1.10 1)">BY</text>
<text transform="translate(38.20 79.95) scale(1.10 1)">CT7DAA</text>
<text transform="translate(38.20 106.52) scale(1.10 1)">CT7DBA</text>
<text transform="translate(37.00 133.09) scale(1.10 1)">CTA</text>
<text transform="translate(36.20 159.66) scale(1.10 1)">DA</text>
<text transform="translate(36.20 186.23) scale(1.10 1)">DH</text>
<text transform="translate(37.00 212.79) scale(1.10 1)">DPM</text>
<text transform="translate(37.00 239.36) scale(1.10 1)">GPP</text>
<text transform="translate(38.20 265.93) scale(1.10 1)">IPARAC</text>
<text transform="translate(38.20 292.50) scale(1.10 1)">IPAROG</text>
<text transform="translate(36.20 319.07) scale(1.10 1)">PH</text>
<text transform="translate(36.20 345.64) scale(1.10 1)">SI</text>
<text transform="translate(36.20 372.21) scale(1.10 1)">SL</text>
<text transform="translate(37.00 398.77) scale(1.10 1)">STI</text>
<text transform="translate(38.20 425.34) scale(1.10 1)">SV7DAA</text>
<text transform="translate(38.20 451.91) scale(1.10 1)">SV7DBA</text>
<text transform="translate(37.00 478.48) scale(1.10 1)">SVA</text>
<text transform="translate(37.00 505.05) scale(1.10 1)">TGW</text>
<text transform="translate(37.00 531.62) scale(1.10 1)">YSI</text>
</g>
<g font-size="8.00" text-anchor="start" stroke="#000" stroke-width="0.14">
<text transform="translate(61.86 32.26) scale(1.28 1) rotate(-90)">BY</text>
<text transform="translate(93.87 33.98) scale(1.28 1) rotate(-90)">CT7DAA</text>
<text transform="translate(125.88 33.98) scale(1.28 1) rotate(-90)">CT7DBA</text>
<text transform="translate(157.89 32.69) scale(1.28 1) rotate(-90)">CTA</text>
<text transform="translate(189.90 32.26) scale(1.28 1) rotate(-90)">DA</text>
<text transform="translate(221.91 32.26) scale(1.28 1) rotate(-90)">DH</text>
<text transform="translate(253.92 32.69) scale(1.28 1) rotate(-90)">DPM</text>
<text transform="translate(285.93 32.69) scale(1.28 1) rotate(-90)">GPP</text>
<text transform="translate(317.94 33.98) scale(1.28 1) rotate(-90)">IPARAC</text>
<text transform="translate(349.94 33.98) scale(1.28 1) rotate(-90)">IPAROG</text>
<text transform="translate(381.96 32.26) scale(1.28 1) rotate(-90)">PH</text>
<text transform="translate(413.97 32.26) scale(1.28 1) rotate(-90)">SI</text>
<text transform="translate(445.98 32.26) scale(1.28 1) rotate(-90)">SL</text>
<text transform="translate(477.99 32.69) scale(1.28 1) rotate(-90)">STI</text>
<text transform="translate(510.00 33.98) scale(1.28 1) rotate(-90)">SV7DAA</text>
<text transform="translate(542.01 33.98) scale(1.28 1) rotate(-90)">SV7DBA</text>
<text transform="translate(574.02 32.69) scale(1.28 1) rotate(-90)">SVA</text>
<text transform="translate(606.03 32.69) scale(1.28 1) rotate(-90)">TGW</text>
<text transform="translate(638.04 32.69) scale(1.28 1) rotate(-90)">YSI</text>
<text font-size="7.0" stroke-width="0.07" transform="translate(669.85 33.20) scale(1.44 1) rotate(-90)">linear</text>
</g>
<defs><linearGradient id="cb" x1="0" x2="1" y1="0" y2="0"><stop offset="0.0000" stop-color="#ff0000"/><stop offset="0.0125" stop-color="#ff0000"/><stop offset="0.0250" stop-color="#ff0000"/><stop offset="0.0375" stop-color="#ff0000"/><stop offset="0.0500" stop-color="#ff0000"/><stop offset="0.0625" stop-color="#ff0000"/><stop offset="0.0750" stop-color="#ff0000"/><stop offset="0.0875" stop-color="#ff0000"/><stop offset="0.1000" stop-color="#ff0000"/><stop offset="0.1125" stop-color="#ff0b00"/><stop offset="0.1250" stop-color="#ff1500"/><stop offset="0.1375" stop-color="#ff1f00"/><stop offset="0.1500" stop-color="#ff2800"/><stop offset="0.1625" stop-color="#ff3200"/><stop offset="0.1750" stop-color="#ff3b04"/><stop offset="0.1875" stop-color="#ff440e"/><stop offset="0.2000" stop-color="#ff4d18"/><stop offset="0.2125" stop-color="#ff5522"/><stop offset="0.2250" stop-color="#ff5e2c"/><stop offset="0.2375" stop-color="#ff6635"/><stop offset="0.2500" stop-color="#ff6f3f"/><stop offset="0.2625" stop-color="#ff7749"/><stop offset="0.2750" stop-color="#ff8053"/><stop offset="0.2875" stop-color="#ff885d"/><stop offset="0.3000" stop-color="#ff9067"/><stop offset="0.3125" stop-color="#ff9872"/><stop offset="0.3250" stop-color="#ffa07c"/><stop offset="0.3375" stop-color="#ffa886"/><stop offset="0.3500" stop-color="#ffb090"/><stop offset="0.3625" stop-color="#ffb89b"/><stop offset="0.3750" stop-color="#ffc0a5"/><stop offset="0.3875" stop-color="#ffc8b0"/><stop offset="0.4000" stop-color="#ffd0ba"/><stop offset="0.4125" stop-color="#ffd8c5"/><stop offset="0.4250" stop-color="#ffe0cf"/><stop offset="0.4375" stop-color="#ffe8da"/><stop offset="0.4500" stop-color="#fff0e4"/><stop offset="0.4625" stop-color="#fff8ef"/><stop offset="0.4750" stop-color="#fffffa"/><stop offset="0.4875" stop-color="#ffffff"/><stop offset="0.5000" stop-color="#ffffff"/><stop offset="0.5125" stop-color="#ffffff"/><stop offset="0.5250" stop-color="#fffcff"/><stop offset="0.5375" stop-color="#fff2ff"/><stop offset="0.5500" stop-color="#f9e8ff"/><stop offset="0.5625" stop-color="#f4dfff"/><stop offset="0.5750" stop-color="#eed5ff"/><stop offset="0.5875" stop-color="#e8cbff"/><stop offset="0.6000" stop-color="#e2c2ff"/><stop offset="0.6125" stop-color="#dcb8ff"/><stop offset="0.6250" stop-color="#d6afff"/><stop offset="0.6375" stop-color="#cfa5ff"/><stop offset="0.6500" stop-color="#c99cff"/><stop offset="0.6625" stop-color="#c292ff"/><stop offset="0.6750" stop-color="#bc89ff"/><stop offset="0.6875" stop-color="#b57fff"/><stop offset="0.7000" stop-color="#ae76ff"/><stop offset="0.7125" stop-color="#a76cff"/><stop offset="0.7250" stop-color="#a063ff"/><stop offset="0.7375" stop-color="#9959ff"/><stop offset="0.7500" stop-color="#9150ff"/><stop offset="0.7625" stop-color="#8a46ff"/><stop offset="0.7750" stop-color="#823dff"/><stop offset="0.7875" stop-color="#7a33ff"/><stop offset="0.8000" stop-color="#722aff"/><stop offset="0.8125" stop-color="#6920ff"/><stop offset="0.8250" stop-color="#6117ff"/><stop offset="0.8375" stop-color="#580dff"/><stop offset="0.8500" stop-color="#4e04ff"/><stop offset="0.8625" stop-color="#4400ff"/><stop offset="0.8750" stop-color="#3a00ff"/><stop offset="0.8875" stop-color="#3000ff"/><stop offset="0.9000" stop-color="#2400ff"/><stop offset="0.9125" stop-color="#1800ff"/><stop offset="0.9250" stop-color="#0b00ff"/><stop offset="0.9375" stop-color="#0000ff"/><stop offset="0.9500" stop-color="#0000ff"/><stop offset="0.9625" stop-color="#0000ff"/><stop offset="0.9750" stop-color="#0000ff"/><stop offset="0.9875" stop-color="#0000ff"/><stop offset="1.0000" stop-color="#0000ff"/></linearGradient></defs>
<rect x="244.70" y="551.40" width="235.80" height="10.30" fill="url(#cb)"/>
<path d="M303.65 551.40v2M303.65 561.70v-2" stroke="#fff" stroke-width="0.6" opacity="0.7"/>
<path d="M362.60 551.40v2M362.60 561.70v-2" stroke="#fff" stroke-width="0.6" opacity="0.7"/>
<path d="M421.55 551.40v2M421.55 561.70v-2" stroke="#fff" stroke-width="0.6" opacity="0.7"/>
<g font-size="8.0" text-anchor="middle">
<text transform="translate(245.00 570.40) scale(1.07 1)">-1.0</text>
<text transform="translate(303.95 570.40) scale(1.07 1)">-0.5</text>
<text transform="translate(362.90 570.40) scale(1.07 1)">0.0</text>
<text transform="translate(421.85 570.40) scale(1.07 1)">0.5</text>
<text transform="translate(480.80 570.40) scale(1.07 1)">1.0</text>
</g>
<text font-size="8.50" text-anchor="end" transform="translate(683.30 585.00) scale(1.04 1)">Response: GY&#160; |&#160; R<tspan font-size="5.5" dy="-3.2">2</tspan><tspan dy="3.2">: 0.959&#160; |&#160; Residual: 0.202</tspan></text>
</svg></body></html>
